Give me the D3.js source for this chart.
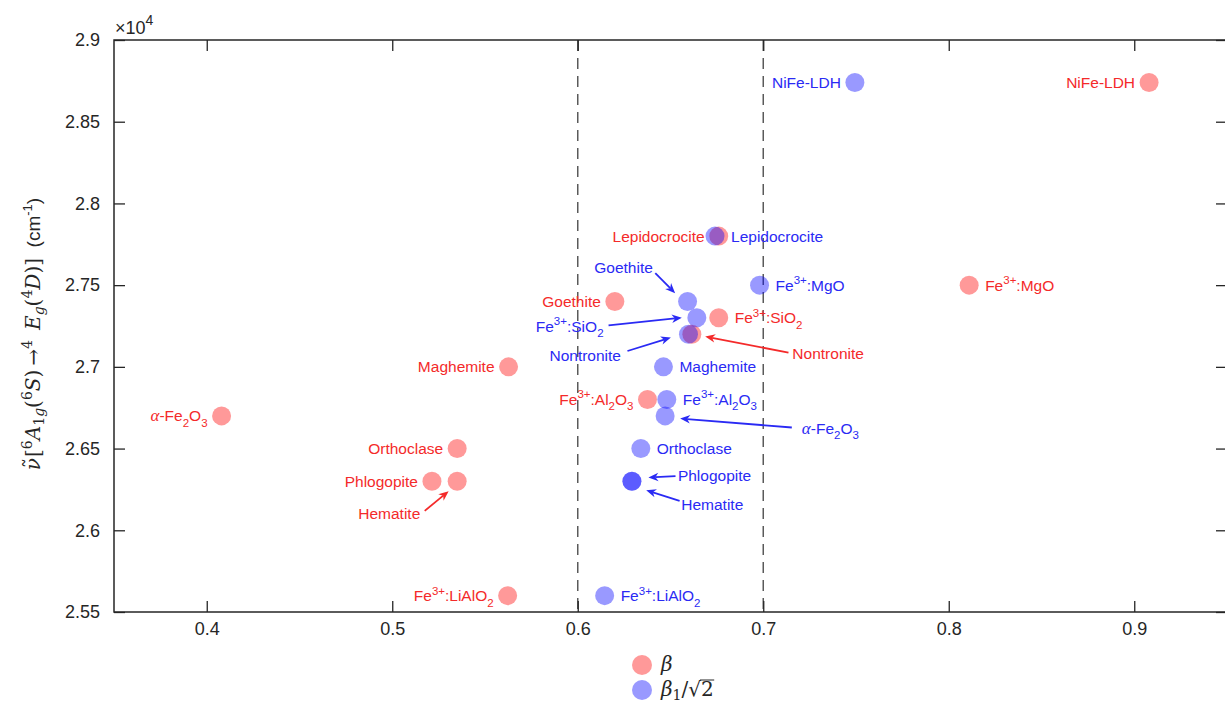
<!DOCTYPE html>
<html><head><meta charset="utf-8">
<script src="https://cdn.jsdelivr.net/npm/d3@7/dist/d3.min.js"></script>
<style>body{margin:0;background:#fff}svg{display:block}</style>
</head><body>
<svg id="chart" width="1225" height="702"></svg>
<script>
// ---------------- data ----------------
const materials = ["NiFe-LDH","Fe^{3+}:MgO","Lepidocrocite","Goethite","Fe^{3+}:SiO_2","Nontronite",
  "Maghemite","α-Fe_2O_3","Fe^{3+}:Al_2O_3","Orthoclase","Phlogopite","Hematite","Fe^{3+}:LiAlO_2"];
const wavenumber = [28740,27500,27800,27400,27300,27200,27000,26700,26800,26500,26300,26300,25600];
const betaValues  = [0.908,0.811,0.676,0.620,0.676,0.6615,0.5627,0.408,0.6376,0.535,0.5214,0.535,0.5622];
const beta1Values = [0.7494,0.698,0.674,0.6592,0.6642,0.6597,0.6462,0.6471,0.648,0.634,0.6292,0.6292,0.6145];
const xTicks = [0.4,0.5,0.6,0.7,0.8,0.9];
const yTicks = [25500,26000,26500,27000,27500,28000,28500,29000];
const refLines = [0.6,0.7];
// label side for each point ("L","R", or "A" = arrow annotation)
const betaSide  = ["L","R","L","L","R","A","L","L","L","L","L","A","L"];
const beta1Side = ["L","R","R","A","A","A","R","A","R","R","A","A","R"];
// arrow annotations (data coordinates): text position, tail, head
const annotations = [
  {s:"beta", name:"Hematite",       anchor:"middle", text:[0.4984,26105], tail:[0.5175,26119], head:[0.5304,26239]},
  {s:"beta", name:"Nontronite",     anchor:"start",  text:[0.7157,27081], tail:[0.7136,27087], head:[0.6687,27186]},
  {s:"beta1",name:"Goethite",       anchor:"middle", text:[0.6247,27610], tail:[0.6418,27573], head:[0.6525,27451]},
  {s:"beta1",name:"Fe^{3+}:SiO_2",  anchor:"end",    text:[0.6139,27248], tail:[0.6166,27254], head:[0.6561,27301]},
  {s:"beta1",name:"Nontronite",     anchor:"end",    text:[0.6233,27070], tail:[0.6268,27097], head:[0.6502,27179]},
  {s:"beta1",name:"α-Fe_2O_3",      anchor:"start",  text:[0.7208,26624], tail:[0.7154,26629], head:[0.6552,26684]},
  {s:"beta1",name:"Phlogopite",     anchor:"start",  text:[0.6540,26333], tail:[0.6527,26331], head:[0.6381,26323]},
  {s:"beta1",name:"Hematite",       anchor:"start",  text:[0.6558,26160], tail:[0.6549,26180], head:[0.6369,26245]}
];

// ---------------- layout ----------------
const svg = d3.select("#chart");
const L=114, R=1227, T=40, B=612;
const x = d3.scaleLinear().domain([0.35,0.95]).range([L,R]);
const y = d3.scaleLinear().domain([25500,29000]).range([B,T]);
const axisColor = "#262626";
const col = {beta:{fill:"#ff0000", text:"#f42a2a"}, beta1:{fill:"#0000ff", text:"#2a2af4"}};
const sans = "'Liberation Sans', Arial, Helvetica, sans-serif";
const serif = "'Liberation Serif', 'Times New Roman', serif";
const mathFont = "'DejaVu Serif', serif";

// reference dashed lines
svg.append("g").selectAll("line").data(refLines).join("line")
  .attr("x1",d=>x(d)).attr("x2",d=>x(d)).attr("y1",T).attr("y2",B)
  .attr("stroke","#5a5a5a").attr("stroke-width",1.5).attr("stroke-dasharray","11,7");

// axes
function styleAxis(g){
  g.attr("font-size",null).attr("font-family",null);
  g.select(".domain").remove();
  g.selectAll(".tick line").attr("stroke",axisColor).attr("stroke-width",1.3);
  g.selectAll("text").attr("fill",axisColor).style("font-family",sans).style("font-size","18px");
}
svg.append("g").attr("transform",`translate(0,${B})`)
  .call(d3.axisBottom(x).tickValues(xTicks).tickSize(-11).tickPadding(10).tickFormat(d3.format(".1f")))
  .call(styleAxis);
svg.append("g").attr("transform",`translate(0,${T})`)
  .call(d3.axisTop(x).tickValues(xTicks).tickSize(-11).tickFormat(""))
  .call(styleAxis);
svg.append("g").attr("transform",`translate(${L},0)`)
  .call(d3.axisLeft(y).tickValues(yTicks).tickSize(-11).tickPadding(14).tickFormat(d=>String(+(d/1e4).toFixed(3))))
  .call(styleAxis);
svg.append("g").attr("transform",`translate(${R},0)`)
  .call(d3.axisRight(y).tickValues(yTicks).tickSize(-11).tickFormat(""))
  .call(styleAxis);
svg.append("rect").attr("x",L).attr("y",T).attr("width",R-L).attr("height",B-T)
  .attr("fill","none").attr("stroke",axisColor).attr("stroke-width",1.5);

// x10^4
const ex = svg.append("text").attr("x",115).attr("y",34).attr("fill",axisColor)
  .style("font-family",sans).style("font-size","18px");
ex.append("tspan").text("×10");
ex.append("tspan").attr("dy",-9).style("font-size","14px").text("4");

// rich text helper
function rich(sel, str, small, supS, subS){
  const parts=[]; let i=0;
  while(i<str.length){
    const c=str[i];
    if(c==="^"||c==="_"){
      let content;
      if(str[i+1]==="{"){const j=str.indexOf("}",i); content=str.slice(i+2,j); i=j+1;}
      else {content=str[i+1]; i+=2;}
      parts.push({t:content,k:c==="^"?"sup":"sub"});
    } else if(c==="α"){parts.push({t:"α",k:"greek"}); i++;}
    else {let j=i; while(j<str.length && !"^_α".includes(str[j])) j++; parts.push({t:str.slice(i,j),k:"n"}); i=j;}
  }
  let cur=0;
  parts.forEach(p=>{
    const target = p.k==="sup"?-supS : p.k==="sub"?subS:0;
    const ts = sel.append("tspan").attr("dy",target-cur).text(p.t);
    cur=target;
    if(p.k==="sup"||p.k==="sub") ts.style("font-size",small+"px");
    if(p.k==="greek") ts.style("font-family",serif).style("font-style","italic").style("font-size","17px");
  });
}

// points
const series = [
  {key:"beta", vals:betaValues, side:betaSide},
  {key:"beta1", vals:beta1Values, side:beta1Side}
];
series.forEach(s=>{
  const data = materials.map((m,i)=>({name:m, x:s.vals[i], y:wavenumber[i], side:s.side[i]}));
  svg.append("g").selectAll("circle").data(data).join("circle")
    .attr("cx",d=>x(d.x)).attr("cy",d=>y(d.y)).attr("r",9.5)
    .attr("fill",col[s.key].fill).attr("fill-opacity",0.4);
  data.filter(d=>d.side!=="A").forEach(d=>{
    const t = svg.append("text")
      .attr("x", d.side==="L" ? x(d.x)-14 : x(d.x)+16)
      .attr("y", y(d.y)+5.4)
      .attr("text-anchor", d.side==="L"?"end":"start")
      .attr("fill", col[s.key].text)
      .style("font-family",sans).style("font-size","15.5px");
    rich(t, d.name, 11.5, 6.5, 5.5);
  });
});

// arrow annotations
annotations.forEach(a=>{
  const c = col[a.s].text;
  const x1=x(a.tail[0]), y1=y(a.tail[1]), x2=x(a.head[0]), y2=y(a.head[1]);
  const ang=Math.atan2(y2-y1,x2-x1), len=10, w=4.2, notch=7;
  const ux=Math.cos(ang), uy=Math.sin(ang), px=-uy, py=ux;
  svg.append("line").attr("x1",x1).attr("y1",y1)
    .attr("x2",x2-ux*notch).attr("y2",y2-uy*notch)
    .attr("stroke",c).attr("stroke-width",1.8);
  const pts=[[x2,y2],[x2-ux*len+px*w,y2-uy*len+py*w],[x2-ux*notch,y2-uy*notch],[x2-ux*len-px*w,y2-uy*len-py*w]];
  svg.append("path").attr("d","M"+pts.map(p=>p.join(",")).join("L")+"Z").attr("fill",c);
  const t = svg.append("text").attr("x",x(a.text[0])).attr("y",y(a.text[1])+5.4)
    .attr("text-anchor",a.anchor).attr("fill",c)
    .style("font-family",sans).style("font-size","15.5px");
  rich(t, a.name, 11.5, 6.5, 5.5);
});

// y-axis label
const yl = svg.append("text").attr("transform","translate(40,334) rotate(-90)")
  .attr("text-anchor","middle").attr("fill",axisColor)
  .style("font-family",mathFont).style("font-size","20px");
function seg(t,opt={}){
  const ts=yl.append("tspan").text(t);
  if(opt.dy) ts.attr("dy",opt.dy);
  if(opt.dx) ts.attr("dx",opt.dx);
  if(opt.it) ts.style("font-style","italic");
  if(opt.sz) ts.style("font-size",opt.sz+"px");
  if(opt.ff) ts.style("font-family",opt.ff);
  return ts;
}
seg("ν",{it:1}); seg("˜",{dx:-10,dy:-2,sz:20}); seg("[",{dx:1,dy:2});
seg("6",{dy:-8,sz:14}); seg("A",{dy:8,it:1});
seg("1",{dy:4,sz:14}); seg("g",{it:1,sz:14}); seg("(",{dy:-4});
seg("6",{dy:-8,sz:14}); seg("S",{dy:8,it:1}); seg(")\u2009→");
seg("4",{dy:-8,sz:14}); seg("\u2002E",{dy:8,it:1});
seg("g",{dy:4,it:1,sz:14}); seg("(",{dy:-4});
seg("4",{dy:-8,sz:14}); seg("D",{dy:8,it:1}); seg(")]");
seg("\u00a0\u00a0(cm",{ff:sans,sz:19});
seg("-1",{ff:sans,sz:13,dy:-8}); seg(")",{ff:sans,sz:19,dy:8});

// legend
const legend = [{key:"beta"},{key:"beta1"}];
const lg = svg.append("g");
lg.selectAll("circle").data(legend).join("circle")
  .attr("cx",642).attr("cy",(d,i)=>665+i*25).attr("r",10)
  .attr("fill",d=>col[d.key].fill).attr("fill-opacity",0.4);
lg.append("text").attr("x",661).attr("y",671).attr("fill",axisColor)
  .style("font-family",mathFont).style("font-size","20px").style("font-style","italic").text("β");
const t2 = lg.append("text").attr("x",661).attr("y",696).attr("fill",axisColor)
  .style("font-family",mathFont).style("font-size","20px");
t2.append("tspan").style("font-style","italic").text("β");
t2.append("tspan").attr("dy",4).style("font-size","14px").text("1");
t2.append("tspan").attr("dy",-4).text("/√2");
const n = t2.node().getNumberOfChars();
const ext = t2.node().getExtentOfChar(n-1);
lg.append("line").attr("x1",ext.x-1).attr("x2",ext.x+ext.width+0.5)
  .attr("y1",ext.y+3).attr("y2",ext.y+3).attr("stroke",axisColor).attr("stroke-width",1);
</script>
</body></html>
